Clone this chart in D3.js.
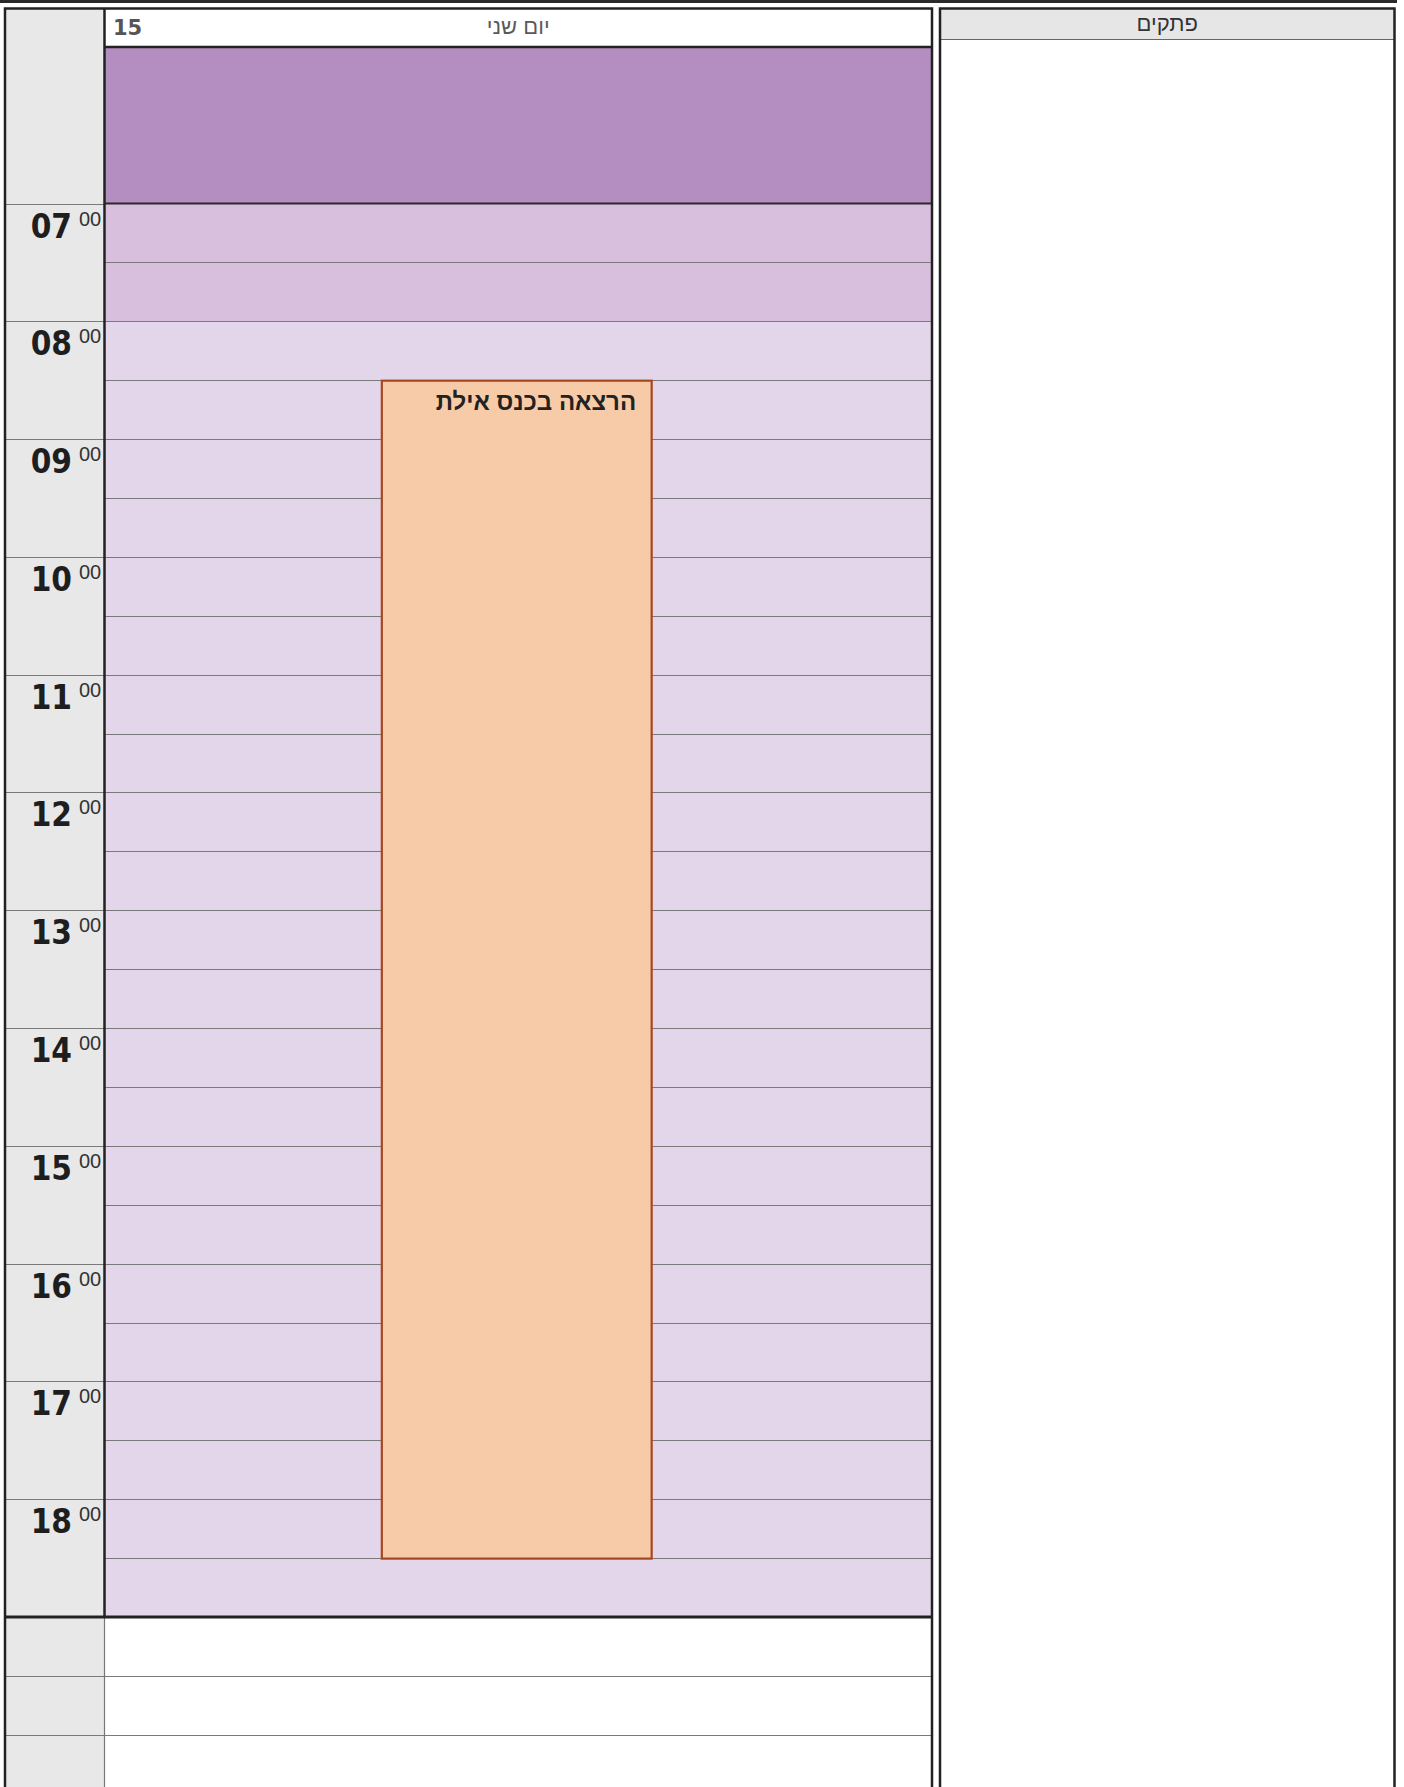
<!DOCTYPE html>
<html>

<head>
    <meta charset="UTF-8">
    <title>יומן</title>
    <style>
        body {
            margin: 0;
            background: #fff;
        }

        .hour-label {
            font-family: "DejaVu Sans Condensed", "DejaVu Sans", sans-serif;
            font-weight: bold;
            fill: #1e1e1e;
        }

        .minute-label {
            font-family: "Liberation Sans", Arial, sans-serif;
            fill: #333;
        }

        .grid line {
            stroke: #7a7a7a;
            stroke-width: 1px;
        }

        .frame {
            fill: none;
            stroke: #222;
            stroke-width: 2.5px;
        }
    </style>
</head>

<body>
    <div class="root"></div>

    <script src="https://cdn.jsdelivr.net/npm/d3@7"></script>

    <script>
        // hours shown on the left
        const hours = [7, 8, 9, 10, 11, 12, 13, 14, 15, 16, 17, 18];
        const hourLabels = ['07', '08', '09', '10', '11', '12', '13', '14', '15', '16', '17', '18'];
        const minuteLabel = '00';

        // background bands of the day column: [from, to]
        const bandNames = ['before', 'early', 'day'];
        const bandFrom = [5.675, 7, 8];
        const bandTo = [7, 8, 19];

        // events
        const eventTitles = ['הרצאה בכנס אילת'];
        const eventStart = [8.5];
        const eventEnd = [18.5];
        const eventLane = [1];
        const laneCount = 3;

        // header texts
        const dayNumber = '15';
        const dayName = 'יום שני';
        const notesTitle = 'פתקים';

        // empty rows below the day (half hours)
        const extraRows = [19.5, 20, 20.5];

        const W = 1404, H = 1787;
        const frameLeft = 5, timeRight = 104.5, dayRight = 932;
        const notesLeft = 940, notesRight = 1394.5;
        const frameTop = 8.5, headBottom = 47;

        const y = d3.scaleLinear()
            .domain([7, 19])
            .range([203.5, 1617]);

        const x = d3.scaleLinear()
            .domain([0, laneCount])
            .range([timeRight, dayRight]);

        const bandColor = d3.scaleOrdinal()
            .domain(bandNames)
            .range(['#b48dc1', '#d8bfdd', '#e4d6ea']);

        const svg = d3.select('.root')
            .append('svg')
            .attr('width', W)
            .attr('height', H)
            .style('display', 'block');

        // top strip
        svg.append('rect')
            .attr('x', 0).attr('y', 0)
            .attr('width', 1397).attr('height', 3)
            .attr('fill', '#2a2a2a');

        // time column background
        svg.append('rect')
            .attr('x', frameLeft).attr('y', frameTop)
            .attr('width', timeRight - frameLeft).attr('height', H)
            .attr('fill', '#e8e8e8');

        // header
        svg.append('rect')
            .attr('x', timeRight).attr('y', frameTop)
            .attr('width', dayRight - timeRight).attr('height', headBottom - frameTop)
            .attr('fill', '#fff');

        svg.append('text')
            .attr('x', 113).attr('y', 35)
            .style('font-family', '"DejaVu Sans", Verdana, sans-serif')
            .style('font-weight', 'bold')
            .style('font-size', '21px')
            .style('fill', '#555')
            .text(dayNumber);

        svg.append('text')
            .attr('x', (timeRight + dayRight) / 2).attr('y', 34)
            .attr('text-anchor', 'middle')
            .style('font-family', '"Liberation Sans", Arial, sans-serif')
            .style('font-size', '22px')
            .style('fill', '#5a5a5a')
            .text(dayName);

        // bands
        svg.append('g')
            .selectAll('rect')
            .data(bandNames)
            .enter()
            .append('rect')
            .attr('x', timeRight)
            .attr('width', dayRight - timeRight)
            .attr('y', (d, i) => i === 0 ? headBottom : y(bandFrom[i]))
            .attr('height', (d, i) => y(bandTo[i]) - (i === 0 ? headBottom : y(bandFrom[i])))
            .attr('fill', d => bandColor(d));

        // bottom white area
        svg.append('rect')
            .attr('x', timeRight).attr('y', y(19))
            .attr('width', dayRight - timeRight).attr('height', H - y(19))
            .attr('fill', '#fff');

        // half hour grid in the day column
        const halfHours = d3.range(7.5, 19, 0.5);
        svg.append('g')
            .attr('class', 'grid')
            .selectAll('line')
            .data(halfHours)
            .enter()
            .append('line')
            .attr('x1', timeRight).attr('x2', dayRight)
            .attr('y1', d => Math.round(y(d)) + 0.5)
            .attr('y2', d => Math.round(y(d)) + 0.5);

        // hour lines in the time column
        svg.append('g')
            .attr('class', 'grid')
            .selectAll('line')
            .data(hours)
            .enter()
            .append('line')
            .attr('x1', frameLeft).attr('x2', timeRight)
            .attr('y1', d => Math.round(y(d)) + 0.5)
            .attr('y2', d => Math.round(y(d)) + 0.5);

        // empty rows below
        svg.append('g')
            .attr('class', 'grid')
            .selectAll('line')
            .data(extraRows)
            .enter()
            .append('line')
            .attr('x1', frameLeft).attr('x2', dayRight)
            .attr('y1', d => Math.round(y(d)) + 0.5)
            .attr('y2', d => Math.round(y(d)) + 0.5);

        // thin time column border below the day
        svg.append('line')
            .attr('x1', timeRight).attr('x2', timeRight)
            .attr('y1', y(19)).attr('y2', H)
            .attr('stroke', '#777')
            .attr('stroke-width', 1.2);

        // hour labels
        const labels = svg.append('g');
        labels.selectAll('.hour-label')
            .data(hours)
            .enter()
            .append('text')
            .attr('class', 'hour-label')
            .attr('x', 72)
            .attr('y', d => y(d) + 34)
            .attr('text-anchor', 'end')
            .style('font-size', '33px')
            .text((d, i) => hourLabels[i]);

        labels.selectAll('.minute-label')
            .data(hours)
            .enter()
            .append('text')
            .attr('class', 'minute-label')
            .attr('x', 79)
            .attr('y', d => y(d) + 22)
            .style('font-size', '20px')
            .text(minuteLabel);

        // events
        const ev = svg.append('g')
            .selectAll('g')
            .data(eventTitles)
            .enter()
            .append('g');

        ev.append('rect')
            .attr('x', (d, i) => x(eventLane[i]) + 1.5)
            .attr('y', (d, i) => y(eventStart[i]) + 0.5)
            .attr('width', (d, i) => x(eventLane[i] + 1) - x(eventLane[i]) - 6)
            .attr('height', (d, i) => y(eventEnd[i]) - y(eventStart[i]))
            .attr('fill', '#f8cba8')
            .attr('stroke', '#a8461f')
            .attr('stroke-width', 2.2);

        ev.append('text')
            .attr('x', (d, i) => x(eventLane[i] + 1) - 20)
            .attr('y', (d, i) => y(eventStart[i]) + 30)
            .attr('text-anchor', 'end')
            .style('font-family', '"Liberation Sans", Arial, sans-serif')
            .style('font-weight', 'bold')
            .style('font-size', '24px')
            .style('fill', '#222')
            .text(d => d);

        // dark lines: header bottom, 07:00, 19:00
        svg.append('line')
            .attr('x1', timeRight).attr('x2', dayRight)
            .attr('y1', headBottom).attr('y2', headBottom)
            .attr('stroke', '#222').attr('stroke-width', 2.5);

        svg.append('line')
            .attr('x1', timeRight).attr('x2', dayRight)
            .attr('y1', y(7)).attr('y2', y(7))
            .attr('stroke', '#2a2a2a').attr('stroke-width', 2);

        svg.append('line')
            .attr('x1', frameLeft).attr('x2', dayRight + 1)
            .attr('y1', y(19)).attr('y2', y(19))
            .attr('stroke', '#222').attr('stroke-width', 3);

        // column borders
        svg.append('line')
            .attr('x1', timeRight).attr('x2', timeRight)
            .attr('y1', frameTop).attr('y2', y(19))
            .attr('stroke', '#222').attr('stroke-width', 2.5);

        svg.append('path')
            .attr('class', 'frame')
            .attr('d', `M${frameLeft},${H}V${frameTop}H${dayRight}V${H}`);

        // notes panel
        svg.append('rect')
            .attr('x', notesLeft).attr('y', frameTop)
            .attr('width', notesRight - notesLeft).attr('height', 31)
            .attr('fill', '#e6e6e6');

        svg.append('line')
            .attr('x1', notesLeft).attr('x2', notesRight)
            .attr('y1', 39.5).attr('y2', 39.5)
            .attr('stroke', '#666').attr('stroke-width', 1.2);

        svg.append('text')
            .attr('x', (notesLeft + notesRight) / 2).attr('y', 31)
            .attr('text-anchor', 'middle')
            .style('font-family', '"Liberation Sans", Arial, sans-serif')
            .style('font-size', '22px')
            .style('fill', '#333')
            .text(notesTitle);

        svg.append('path')
            .attr('class', 'frame')
            .attr('d', `M${notesLeft},${H}V${frameTop}H${notesRight}V${H}`);
    </script>
</body>

</html>
